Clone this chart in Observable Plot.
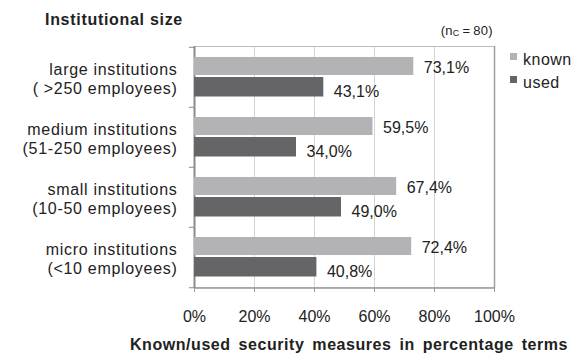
<!DOCTYPE html>
<html>
<head>
<meta charset="utf-8">
<script src="https://cdn.jsdelivr.net/npm/d3@7"></script>
<script src="https://cdn.jsdelivr.net/npm/@observablehq/plot@0.6"></script>
<style>
  html, body { margin: 0; padding: 0; background: #fff; }
  #wrap { position: relative; width: 579px; height: 354px; font-family: "Liberation Sans", Arial, sans-serif; color: #222; }
  #wrap svg { position: absolute; left: 0; top: 0; }
  .title { position: absolute; left: 45px; top: 11px; font-weight: bold; font-size: 16px; letter-spacing: 0.7px; white-space: nowrap; }
  .ncount { position: absolute; right: 86px; top: 23px; font-size: 13px; letter-spacing: 0.3px; white-space: nowrap; }
  .ncount sub { font-size: 9px; vertical-align: -1px; }
  .legend { position: absolute; left: 510px; top: 50px; font-size: 16px; }
  .legend div { position: relative; height: 23px; line-height: 20px; padding-left: 13px; letter-spacing: 0.5px; }
  .legend span { position: absolute; left: 0; top: 3px; width: 7px; height: 7px; }
  .xtitle { position: absolute; left: 130px; top: 336px; font-weight: bold; font-size: 16px; white-space: nowrap; word-spacing: 3px; letter-spacing: 0.55px; }
  [aria-description="cat-labels"] { letter-spacing: 0.7px; }
</style>
</head>
<body>
<div id="wrap"></div>
<script>
const categories = [
  "large institutions\n( >250 employees)",
  "medium institutions\n(51-250 employees)",
  "small institutions\n(10-50 employees)",
  "micro institutions\n(<10 employees)"
];
const series = ["known", "used"];
const known = [73.1, 59.5, 67.4, 72.4];
const used = [43.1, 34.0, 49.0, 40.8];
const xTicks = [0, 20, 40, 60, 80, 100];
const colors = ["#b3b3b5", "#656567"];
const titleText = "Institutional size";
const xTitle = "Known/used security measures in percentage terms";

const rows = [];
categories.forEach((c, i) => {
  rows.push({cat: c, series: "known", value: known[i]});
  rows.push({cat: c, series: "used", value: used[i]});
});

const W = 579, H = 354, mt = 46, mb = 66, ml = 194, mr = 85;
const half = (H - mt - mb) / categories.length / 2;
const fmt = v => v.toFixed(1).replace(".", ",") + "%";

const chart = Plot.plot({
  width: W, height: H,
  marginTop: mt, marginBottom: mb, marginLeft: ml, marginRight: mr,
  style: {fontFamily: "Liberation Sans, Arial, sans-serif", fontSize: "16px", color: "#222", background: "transparent"},
  x: {domain: [0, 100], axis: null},
  y: {domain: categories, padding: 0, axis: null},
  color: {domain: series, range: colors},
  marks: [
    Plot.gridX(xTicks.slice(1, -1), {stroke: "#d4d4d4", strokeOpacity: 1}),
    Plot.frame({stroke: "#bdbdbd"}),
    Plot.ruleX([100], {stroke: "#9e9e9e", strokeWidth: 1.5}),
    Plot.ruleY([categories[categories.length - 1]], {y: d => d, dy: half, stroke: "#a6a6a6", strokeWidth: 1.5}),
    Plot.ruleX([0], {stroke: "#8a8a8a", strokeWidth: 2}),
    Plot.ruleY(categories, {y: d => d, dy: -half, x1: -1.7, x2: 0, stroke: "#8a8a8a"}),
    Plot.ruleY([categories[categories.length - 1]], {y: d => d, dy: half, x1: -1.7, x2: 0, stroke: "#8a8a8a"}),
    Plot.barX(rows.filter(d => d.series === "known"), {x: "value", y: "cat", fill: "series", insetTop: 10, insetBottom: 32}),
    Plot.barX(rows.filter(d => d.series === "used"), {x: "value", y: "cat", fill: "series", insetTop: 30, insetBottom: 10.5}),
    Plot.text(rows.filter(d => d.series === "known"), {x: "value", y: "cat", text: d => fmt(d.value), dx: 10, dy: -9.5, textAnchor: "start", fill: "#222"}),
    Plot.text(rows.filter(d => d.series === "used"), {x: "value", y: "cat", text: d => fmt(d.value), dx: 10, dy: 14, textAnchor: "start", fill: "#222"}),
    Plot.text(categories, {y: d => d, text: d => d, frameAnchor: "left", dx: -17, dy: 1, textAnchor: "end", lineHeight: 1.2, fill: "#222", ariaDescription: "cat-labels"}),
    Plot.axisX(xTicks, {tickSize: 4, tickPadding: 18, tickFormat: d => d + "%", stroke: "#999", fill: "#222", label: null})
  ]
});

const wrap = document.getElementById("wrap");
wrap.appendChild(chart);

const t = document.createElement("div"); t.className = "title"; t.textContent = titleText; wrap.appendChild(t);
const n = document.createElement("div"); n.className = "ncount"; n.innerHTML = "(n<sub>C</sub>\u2009=\u200980)"; wrap.appendChild(n);
const lg = document.createElement("div"); lg.className = "legend";
series.forEach((s, i) => {
  const row = document.createElement("div");
  const sw = document.createElement("span"); sw.style.background = colors[i];
  row.appendChild(sw); row.appendChild(document.createTextNode(s));
  lg.appendChild(row);
});
wrap.appendChild(lg);
const xt = document.createElement("div"); xt.className = "xtitle"; xt.textContent = xTitle; wrap.appendChild(xt);
</script>
</body>
</html>
